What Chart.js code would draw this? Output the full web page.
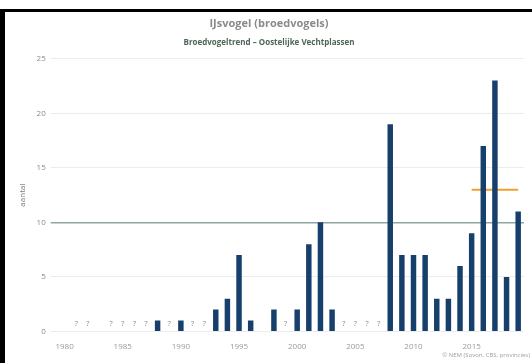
<!DOCTYPE html>
<html>
<head>
<meta charset="utf-8">
<script src="https://cdn.jsdelivr.net/npm/chart.js@4/dist/chart.umd.min.js"></script>
<style>
  body { margin: 0; background: #fff; }
  #wrap { position: relative; width: 532px; height: 363px; }
  #frame { position: absolute; left: 0; top: 9px; width: 532px; height: 354px;
           border-left: 5px solid #000; border-top: 3px solid #000; box-sizing: border-box; pointer-events: none; }
</style>
</head>
<body>
<div id="wrap">
  <canvas id="vogelChart" width="532" height="363"></canvas>
  <div id="frame"></div>
</div>
<script>
// jaren en getelde broedparen (null = geen waarde)
const jaren = [1980, 1981, 1982, 1983, 1984, 1985, 1986, 1987, 1988, 1989,
               1990, 1991, 1992, 1993, 1994, 1995, 1996, 1997, 1998, 1999,
               2000, 2001, 2002, 2003, 2004, 2005, 2006, 2007, 2008, 2009,
               2010, 2011, 2012, 2013, 2014, 2015, 2016, 2017, 2018, 2019];
const aantallen = [null, null, null, null, null, null, null, null, 1, null,
                   1, null, null, 2, 3, 7, 1, null, 2, null,
                   2, 8, 10, 2, null, null, null, null, 19, 7,
                   7, 7, 3, 3, 6, 9, 17, 23, 5, 11];
// jaren zonder betrouwbare telling
const onbekend = [1981, 1982, 1984, 1985, 1986, 1987, 1989, 1991, 1992, 1999,
                  2004, 2005, 2006, 2007];
// gemiddelde laatste vijf jaar
const gemiddeldJaren = [2015, 2016, 2017, 2018, 2019];
const gemiddelde = 13;
const referentie = 10;
const yTicks = [0, 5, 10, 15, 20, 25];

const gemData = jaren.map(j => gemiddeldJaren.includes(j) ? gemiddelde : null);

const vraagtekens = {
    id: 'vraagtekens',
    afterDatasetsDraw(chart) {
        const ctx = chart.ctx;
        const x = chart.scales.x, y = chart.scales.y;
        ctx.save();
        ctx.font = '8px "Open Sans"';
        ctx.fillStyle = '#8c8c8c';
        ctx.textAlign = 'center';
        ctx.textBaseline = 'middle';
        onbekend.forEach(j => {
            ctx.fillText('?', x.getPixelForValue(jaren.indexOf(j)), y.getPixelForValue(0) - 8);
        });
        // bron
        ctx.font = '6px "Open Sans"';
        ctx.fillStyle = '#a0a0a0';
        ctx.textAlign = 'right';
        ctx.fillText('© NEM (Sovon, CBS, provincies)', chart.width - 2, chart.height - 8);
        ctx.restore();
    }
};

const ctx = document.getElementById('vogelChart').getContext('2d');
new Chart(ctx, {
    type: 'bar',
    data: {
        labels: jaren,
        datasets: [{
            label: 'aantal',
            data: aantallen,
            backgroundColor: '#173f6b',
            categoryPercentage: 1,
            barPercentage: 0.47,
            order: 0
        }, {
            type: 'line',
            label: 'gemiddelde',
            data: gemData,
            borderColor: '#f0a02c',
            borderWidth: 2,
            pointRadius: 0,
            spanGaps: false,
            order: 1
        }]
    },
    options: {
        responsive: false,
        animation: false,
        layout: { padding: { left: 14, right: 8, top: 12, bottom: 8 } },
        plugins: {
            legend: { display: false },
            tooltip: { enabled: false },
            title: {
                display: true,
                text: 'IJsvogel (broedvogels)',
                color: '#8a8a8a',
                font: { family: 'Open Sans', size: 11 },
                padding: { top: 5, bottom: 8 }
            },
            subtitle: {
                display: true,
                text: 'Broedvogeltrend – Oostelijke Vechtplassen',
                color: '#4d6656',
                font: { family: 'Open Sans', size: 8, weight: 'bold' },
                padding: { top: 0, bottom: 11 }
            }
        },
        scales: {
            x: {
                grid: { display: false },
                border: { display: false },
                ticks: {
                    autoSkip: false,
                    maxRotation: 0,
                    color: '#9a9a9a',
                    font: { family: 'Open Sans', size: 8 },
                    callback: function (v) { const j = jaren[v]; return j % 5 === 0 ? String(j) : ''; }
                }
            },
            y: {
                min: 0,
                max: 25,
                afterBuildTicks: axis => { axis.ticks = yTicks.map(v => ({ value: v })); },
                border: { display: false },
                grid: {
                    color: c => c.tick && c.tick.value === referentie ? '#8ea6a4' : '#ececec',
                    lineWidth: c => c.tick && c.tick.value === referentie ? 1.5 : 1
                },
                ticks: {
                    color: '#8a8a8a',
                    padding: 5,
                    font: { family: 'Open Sans', size: 8 }
                },
                title: {
                    display: true,
                    text: 'aantal',
                    color: '#7a7a7a',
                    font: { family: 'Open Sans', size: 8 },
                    padding: 4
                }
            }
        }
    },
    plugins: [vraagtekens]
});
</script>
</body>
</html>
